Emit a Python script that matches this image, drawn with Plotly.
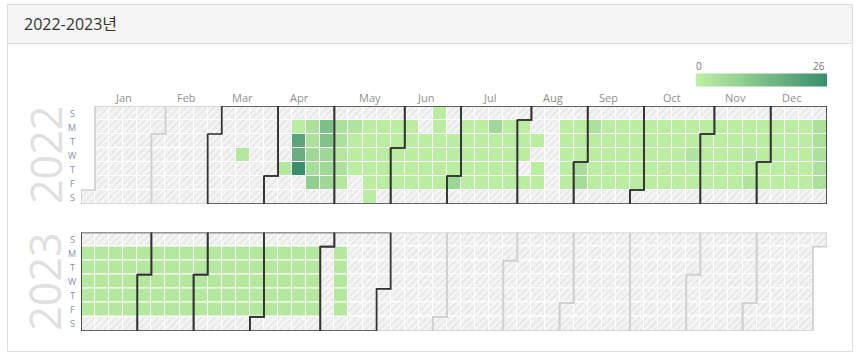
import datetime as dt
import plotly.graph_objects as go

# ---------------- data ----------------
TITLE = "2022-2023년"
years = [2022, 2023]
month_names = ["Jan", "Feb", "Mar", "Apr", "May", "Jun",
               "Jul", "Aug", "Sep", "Oct", "Nov", "Dec"]
day_names = ["S", "M", "T", "W", "T", "F", "S"]
highlight_start = "2022-03-01"
highlight_end = "2023-05-31"
vmin, vmax = 0, 26

dates_2022 = [
    "2022-03-16",
    "2022-04-07",
    "2022-04-11", "2022-04-12", "2022-04-13", "2022-04-14",
    "2022-04-18", "2022-04-19", "2022-04-20", "2022-04-21", "2022-04-22",
    "2022-04-25", "2022-04-26", "2022-04-27", "2022-04-28", "2022-04-29",
    "2022-05-02", "2022-05-03", "2022-05-04", "2022-05-05", "2022-05-06",
    "2022-05-09", "2022-05-10", "2022-05-11", "2022-05-12",
    "2022-05-16", "2022-05-17", "2022-05-18", "2022-05-19", "2022-05-20", "2022-05-21",
    "2022-05-23", "2022-05-24", "2022-05-25", "2022-05-26", "2022-05-27",
    "2022-05-30", "2022-05-31", "2022-06-01", "2022-06-02", "2022-06-03",
    "2022-06-06", "2022-06-07", "2022-06-08", "2022-06-09", "2022-06-10",
    "2022-06-14", "2022-06-15", "2022-06-16", "2022-06-17",
    "2022-06-19", "2022-06-20", "2022-06-21", "2022-06-22", "2022-06-23", "2022-06-24",
    "2022-06-28", "2022-06-29", "2022-06-30", "2022-07-01",
    "2022-07-04", "2022-07-05", "2022-07-06", "2022-07-07", "2022-07-08",
    "2022-07-11", "2022-07-12", "2022-07-13", "2022-07-14", "2022-07-15",
    "2022-07-18", "2022-07-19", "2022-07-20", "2022-07-21", "2022-07-22",
    "2022-07-25", "2022-07-26", "2022-07-27", "2022-07-28", "2022-07-29",
    "2022-08-01", "2022-08-02", "2022-08-03", "2022-08-05",
    "2022-08-09", "2022-08-11", "2022-08-12",
    "2022-08-22", "2022-08-23", "2022-08-24", "2022-08-25", "2022-08-26",
    "2022-08-29", "2022-08-30", "2022-08-31", "2022-09-01", "2022-09-02",
    "2022-09-05", "2022-09-06", "2022-09-07", "2022-09-08", "2022-09-09",
    "2022-09-12", "2022-09-13", "2022-09-14", "2022-09-15", "2022-09-16",
    "2022-09-19", "2022-09-20", "2022-09-21", "2022-09-22", "2022-09-23",
    "2022-09-26", "2022-09-27", "2022-09-28", "2022-09-29", "2022-09-30",
    "2022-10-03", "2022-10-04", "2022-10-05", "2022-10-06", "2022-10-07",
    "2022-10-10", "2022-10-11", "2022-10-12", "2022-10-13", "2022-10-14",
    "2022-10-17", "2022-10-18", "2022-10-19", "2022-10-20", "2022-10-21",
    "2022-10-24", "2022-10-25", "2022-10-26", "2022-10-27", "2022-10-28",
    "2022-10-31", "2022-11-01", "2022-11-02", "2022-11-03", "2022-11-04",
    "2022-11-07", "2022-11-08", "2022-11-09", "2022-11-10", "2022-11-11",
    "2022-11-14", "2022-11-15", "2022-11-16", "2022-11-17", "2022-11-18",
    "2022-11-21", "2022-11-22", "2022-11-23", "2022-11-24", "2022-11-25",
    "2022-11-28", "2022-11-29", "2022-11-30", "2022-12-01", "2022-12-02",
    "2022-12-05", "2022-12-06", "2022-12-07", "2022-12-08", "2022-12-09",
    "2022-12-12", "2022-12-13", "2022-12-14", "2022-12-15", "2022-12-16",
    "2022-12-19", "2022-12-20", "2022-12-21", "2022-12-22", "2022-12-23",
    "2022-12-26", "2022-12-27", "2022-12-28", "2022-12-29", "2022-12-30",
]
values_2022 = [
    2,
    2,
    1, 20, 17, 26,
    4, 4, 6, 5, 9,
    13, 12, 6, 6, 6,
    4, 4, 2, 4, 2,
    3, 1, 1, 1,
    1, 1, 1, 1, 1, 1,
    1, 1, 1, 1, 1,
    1, 1, 1, 1, 1,
    1, 1, 1, 1, 1,
    1, 1, 1, 1,
    1, 1, 1, 1, 1, 1,
    1, 1, 1, 7,
    1, 1, 1, 1, 1,
    1, 1, 1, 1, 1,
    6, 1, 1, 1, 1,
    1, 1, 1, 1, 1,
    1, 1, 1, 1,
    1, 1, 1,
    1, 1, 1, 1, 1,
    1, 1, 1, 5, 5,
    4, 1, 1, 1, 1,
    1, 1, 1, 1, 1,
    1, 1, 1, 1, 1,
    1, 1, 1, 1, 1,
    1, 1, 1, 1, 1,
    1, 1, 1, 1, 1,
    1, 1, 1, 1, 1,
    1, 1, 3, 1, 1,
    1, 1, 1, 1, 1,
    1, 1, 1, 1, 1,
    1, 1, 1, 1, 1,
    1, 1, 2, 1, 3,
    1, 1, 1, 1, 1,
    1, 1, 1, 1, 1,
    1, 1, 1, 1, 1,
    1, 1, 1, 1, 1,
    4, 4, 4, 4, 4,
]

dates_2023 = [
    "2023-01-02", "2023-01-03", "2023-01-04", "2023-01-05", "2023-01-06",
    "2023-01-09", "2023-01-10", "2023-01-11", "2023-01-12", "2023-01-13",
    "2023-01-16", "2023-01-17", "2023-01-18", "2023-01-19", "2023-01-20",
    "2023-01-23", "2023-01-24", "2023-01-25", "2023-01-26", "2023-01-27",
    "2023-01-30", "2023-01-31", "2023-02-01", "2023-02-02", "2023-02-03",
    "2023-02-06", "2023-02-07", "2023-02-08", "2023-02-09", "2023-02-10",
    "2023-02-13", "2023-02-14", "2023-02-15", "2023-02-16", "2023-02-17",
    "2023-02-20", "2023-02-21", "2023-02-22", "2023-02-23", "2023-02-24",
    "2023-02-27", "2023-02-28", "2023-03-01", "2023-03-02", "2023-03-03",
    "2023-03-06", "2023-03-07", "2023-03-08", "2023-03-09", "2023-03-10",
    "2023-03-13", "2023-03-14", "2023-03-15", "2023-03-16", "2023-03-17",
    "2023-03-20", "2023-03-21", "2023-03-22", "2023-03-23", "2023-03-24",
    "2023-03-27", "2023-03-28", "2023-03-29", "2023-03-30", "2023-03-31",
    "2023-04-03", "2023-04-04", "2023-04-05", "2023-04-06", "2023-04-07",
    "2023-04-10", "2023-04-11", "2023-04-12", "2023-04-13", "2023-04-14",
    "2023-04-17", "2023-04-18", "2023-04-19", "2023-04-20", "2023-04-21",
    "2023-04-24", "2023-04-25", "2023-04-26", "2023-04-27", "2023-04-28",
    "2023-05-08", "2023-05-09", "2023-05-10", "2023-05-11", "2023-05-12",
]
values_2023 = [
    2, 2, 2, 2, 2,
    2, 2, 2, 2, 2,
    2, 2, 2, 2, 2,
    2, 2, 2, 2, 2,
    2, 2, 2, 2, 2,
    2, 2, 2, 2, 2,
    2, 2, 2, 2, 2,
    2, 2, 2, 2, 2,
    2, 2, 2, 2, 2,
    2, 2, 2, 2, 2,
    2, 2, 2, 2, 2,
    2, 2, 2, 2, 2,
    2, 2, 2, 2, 2,
    2, 2, 2, 2, 2,
    2, 2, 2, 2, 2,
    2, 2, 2, 2, 2,
    2, 2, 2, 2, 2,
    2, 2, 2, 2, 2,
]

data_by_year = {2022: (dates_2022, values_2022), 2023: (dates_2023, values_2023)}

# ---------------- geometry / style ----------------
W, H = 859, 357
GRID_X0, GRID_X1 = 81, 827
YEAR_BOX = {2022: (106, 204), 2023: (232.5, 331)}
COLORSCALE = [[0, "#bff0a3"], [1, "#3a8e6d"]]
FONT = "Open Sans, Noto Sans CJK KR, sans-serif"


def px_x(x):
    return x / W


def px_y(y):
    return 1 - y / H


def to_date(s):
    return dt.date.fromisoformat(s)


def cell(d):
    jan1 = dt.date(d.year, 1, 1)
    off = (jan1.weekday() + 1) % 7
    col = ((d - jan1).days + off) // 7
    row = (d.weekday() + 1) % 7
    return col, row


def outline(s, e):
    c0, r0 = cell(s)
    c1, r1 = cell(e)
    pts = [(c0, r0), (c0 + 1, r0), (c0 + 1, 0), (c1 + 1, 0), (c1 + 1, r1 + 1),
           (c1, r1 + 1), (c1, 7), (c0, 7), (c0, r0)]
    return pts


def month_end(y, m):
    if m == 12:
        return dt.date(y, 12, 31)
    return dt.date(y, m + 1, 1) - dt.timedelta(days=1)


fig = go.Figure()
hl_s, hl_e = to_date(highlight_start), to_date(highlight_end)

layout_axes = {}
for i, y in enumerate(years):
    yname = "y" if i == 0 else "y%d" % (i + 1)
    top, bot = YEAR_BOX[y]
    layout_axes["yaxis" if i == 0 else "yaxis%d" % (i + 1)] = dict(
        domain=[px_y(bot), px_y(top)], range=[7, 0], visible=False,
        fixedrange=True, anchor="x")

    # background hatched cells for every day of the year
    d = dt.date(y, 1, 1)
    bx, bb = [], []
    while d.year == y:
        c, r = cell(d)
        bx.append(c + 0.5)
        bb.append(r)
        d += dt.timedelta(days=1)
    fig.add_trace(go.Bar(
        x=bx, y=[1] * len(bx), base=bb, width=1, xaxis="x", yaxis=yname,
        marker=dict(color="#f4f4f4",
                    line=dict(color="white", width=1),
                    pattern=dict(shape="/", bgcolor="#f4f4f4", fgcolor="#d9d9d9",
                                 size=5, solidity=0.35)),
        hoverinfo="skip", showlegend=False))

    # coloured value cells
    dts, vals = data_by_year[y]
    cx, cb = [], []
    for s in dts:
        c, r = cell(to_date(s))
        cx.append(c + 0.5)
        cb.append(r)
    marker = dict(color=vals, colorscale=COLORSCALE, cmin=vmin, cmax=vmax,
                  line=dict(color="white", width=1), showscale=(i == 0))
    if i == 0:
        marker["colorbar"] = dict(
            orientation="h", x=px_x(696), xanchor="left", y=px_y(79.5),
            yanchor="middle", len=131, lenmode="pixels", thickness=13,
            xpad=0, ypad=0, outlinewidth=0, showticklabels=False, ticks="")
    fig.add_trace(go.Bar(
        x=cx, y=[1] * len(cx), base=cb, width=1, xaxis="x", yaxis=yname,
        marker=marker, text=dts, hovertemplate="%{text}: %{marker.color}<extra></extra>",
        textposition="none", showlegend=False))

    # month outlines: grey for all, dark for the highlighted range
    gx, gy, kx, ky = [], [], [], []
    for m in range(1, 13):
        s, e = dt.date(y, m, 1), month_end(y, m)
        pts = outline(s, e)
        tx, ty = (kx, ky) if (s >= hl_s and e <= hl_e) else (gx, gy)
        tx.extend([p[0] for p in pts] + [None])
        ty.extend([p[1] for p in pts] + [None])
    fig.add_trace(go.Scatter(x=gx, y=gy, mode="lines", xaxis="x", yaxis=yname,
                             line=dict(color="#d0d0d0", width=1.7),
                             hoverinfo="skip", showlegend=False))
    fig.add_trace(go.Scatter(x=kx, y=ky, mode="lines", xaxis="x", yaxis=yname,
                             line=dict(color="#333333", width=1.7),
                             hoverinfo="skip", showlegend=False))

annotations = []
# month labels (first year only)
for m in range(1, 13):
    c0, _ = cell(dt.date(years[0], m, 1))
    c1, _ = cell(month_end(years[0], m))
    annotations.append(dict(
        x=(c0 + c1 + 1) / 2, y=px_y(97.5), xref="x", yref="paper",
        text=month_names[m - 1], showarrow=False, xanchor="center", yanchor="middle",
        font=dict(family=FONT, size=11, color="#8f8f8f")))
# day labels and year labels
for i, y in enumerate(years):
    yname = "y" if i == 0 else "y%d" % (i + 1)
    for r, nm in enumerate(day_names):
        annotations.append(dict(
            x=px_x(72), y=r + 0.5, xref="paper", yref=yname, text=nm,
            showarrow=False, xanchor="center", yanchor="middle",
            font=dict(family=FONT, size=9, color="#8b90a3")))
    annotations.append(dict(
        x=px_x(45), y=3.5, xref="paper", yref=yname, text=str(y),
        showarrow=False, textangle=-90, xanchor="center", yanchor="middle",
        font=dict(family=FONT, size=43, color="#e0e0e0")))
# legend labels
annotations.append(dict(x=px_x(698.7), y=px_y(66), xref="paper", yref="paper",
                        text=str(vmin), showarrow=False, xanchor="center",
                        yanchor="middle", font=dict(family=FONT, size=10, color="#777777")))
annotations.append(dict(x=px_x(827), y=px_y(66), xref="paper", yref="paper",
                        text=str(vmax), showarrow=False, xanchor="right",
                        yanchor="middle", font=dict(family=FONT, size=10, color="#777777")))
# panel title
annotations.append(dict(x=px_x(22), y=px_y(24), xref="paper", yref="paper",
                        text=TITLE, showarrow=False, xanchor="left", yanchor="middle",
                        font=dict(family=FONT, size=16, color="#333333")))

shapes = [
    dict(type="rect", xref="paper", yref="paper", x0=px_x(7.5), x1=px_x(852.5),
         y0=px_y(351.5), y1=px_y(4.5), line=dict(color="#dddddd", width=1),
         fillcolor="white", layer="below"),
    dict(type="rect", xref="paper", yref="paper", x0=px_x(7.5), x1=px_x(852.5),
         y0=px_y(43.5), y1=px_y(4.5), line=dict(color="#dddddd", width=1),
         fillcolor="#f5f5f5", layer="below"),
]

fig.update_layout(
    width=W, height=H, margin=dict(l=0, r=0, t=0, b=0),
    paper_bgcolor="white", plot_bgcolor="rgba(0,0,0,0)",
    barmode="overlay", bargap=0,
    xaxis=dict(domain=[px_x(GRID_X0), px_x(GRID_X1)], range=[0, 53],
               visible=False, fixedrange=True),
    annotations=annotations, shapes=shapes,
    font=dict(family=FONT),
    **layout_axes,
)

fig.write_html("out.html", config={"displayModeBar": False},
               post_script="document.body.style.margin='0';document.body.style.overflow='hidden';")
